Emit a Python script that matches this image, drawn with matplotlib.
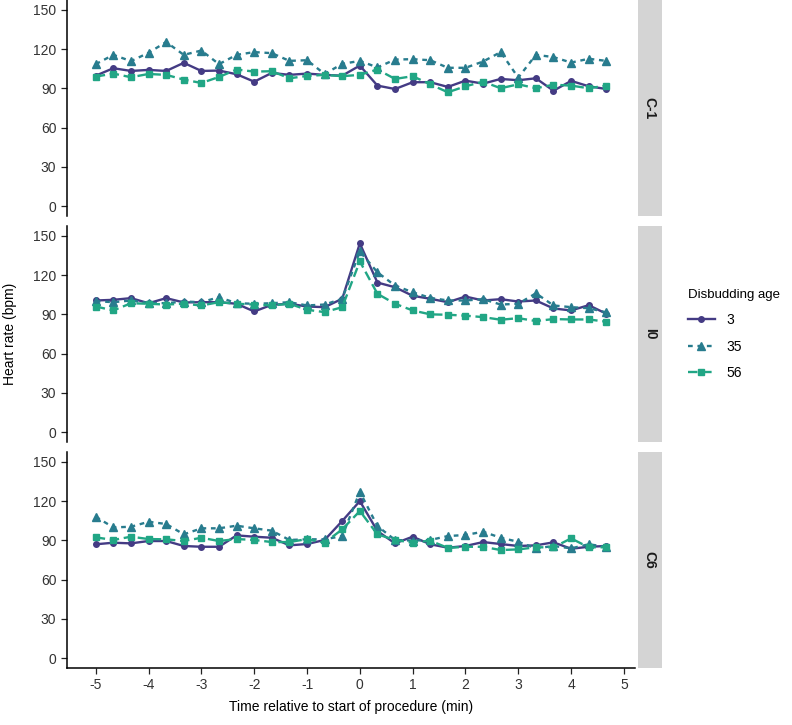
import numpy as np
import matplotlib
matplotlib.use("Agg")
import matplotlib.pyplot as plt
from matplotlib.lines import Line2D

plt.rcParams['font.family'] = ['Liberation Sans', 'DejaVu Sans']
plt.rcParams['axes.unicode_minus'] = False

# time points, 20 s apart
time_min = np.arange(-15, 15) / 3.0

panels = ["C-1", "I0", "C6"]
ages = ["3", "35", "56"]

# C-1
c1_age3 = [99.7, 105.4, 103.3, 104.1, 103.3, 109.5, 103.3, 103.6, 100.8, 95.1,
           101.8, 100.3, 101.3, 100.3, 99.7, 107.4, 92.1, 89.5, 94.7, 94.7,
           91.1, 95.9, 93.6, 97.2, 96.2, 97.7, 88.2, 95.7, 91.6, 89.5]
c1_age35 = [108.5, 115.6, 110.8, 117.2, 125.4, 115.6, 118.9, 108.5, 115.6, 117.7,
            116.9, 111.0, 111.5, 101.0, 108.7, 111.0, 106.0, 112.0, 112.3, 111.5,
            105.7, 105.7, 110.5, 117.7, 98.2, 115.6, 113.9, 109.7, 112.6, 111.0]
c1_age56 = [99.0, 101.3, 98.5, 101.0, 100.3, 96.7, 94.1, 98.7, 104.4, 102.8,
            103.1, 97.7, 99.5, 100.3, 99.3, 100.3, 104.4, 97.2, 99.3, 93.1,
            87.0, 91.6, 95.1, 90.1, 93.1, 90.1, 92.8, 92.1, 90.1, 92.1]

# I0
i0_age3 = [100.6, 101.1, 102.4, 98.5, 102.4, 99.1, 99.3, 99.3, 98.1, 92.2,
           97.3, 98.1, 96.0, 95.5, 101.9, 144.2, 114.3, 110.7, 104.2, 101.9,
           99.3, 103.6, 100.6, 101.6, 99.8, 100.6, 94.5, 93.0, 97.0, 90.5]
i0_age35 = [100.1, 99.3, 100.6, 98.8, 98.5, 99.8, 99.3, 103.1, 98.5, 98.1,
            98.5, 99.3, 96.8, 97.5, 101.9, 138.1, 122.1, 112.0, 106.9, 102.6,
            100.6, 100.6, 101.6, 97.5, 98.1, 106.1, 96.8, 95.5, 94.7, 91.5]
i0_age56 = [96.0, 93.0, 98.5, 98.1, 97.5, 98.1, 96.8, 99.3, 98.1, 97.5,
            96.8, 98.1, 93.5, 91.7, 95.5, 130.5, 105.7, 98.1, 93.0, 90.0,
            89.7, 89.0, 87.9, 85.9, 87.1, 84.9, 86.4, 86.1, 86.1, 84.4]

# C6
c6_age3 = [87.0, 88.2, 87.7, 89.5, 89.5, 85.7, 85.1, 85.1, 93.8, 92.8,
           92.0, 86.2, 87.2, 90.3, 104.8, 120.0, 97.1, 87.7, 92.8, 87.0,
           84.4, 85.7, 88.7, 87.2, 85.7, 86.2, 88.5, 83.6, 85.1, 85.7]
c6_age35 = [108.0, 99.9, 100.4, 104.2, 102.5, 94.6, 99.2, 99.2, 101.2, 99.2,
            97.4, 90.3, 90.8, 90.8, 93.3, 127.1, 100.9, 90.3, 89.8, 90.3,
            93.3, 94.1, 96.6, 92.0, 88.9, 83.9, 85.7, 83.9, 87.0, 85.1]
c6_age56 = [92.3, 90.3, 92.8, 91.0, 90.8, 89.5, 92.0, 89.5, 91.0, 90.3,
            88.7, 88.7, 91.0, 88.2, 98.4, 112.4, 94.6, 90.3, 88.2, 89.8,
            84.2, 85.1, 85.1, 82.6, 83.1, 84.7, 84.7, 91.5, 84.7, 84.7]

panel_data = {
    "C-1": [c1_age3, c1_age35, c1_age56],
    "I0": [i0_age3, i0_age35, i0_age56],
    "C6": [c6_age3, c6_age35, c6_age56],
}

colors = ['#443b84', '#287c8e', '#21a685']
markers = ['o', '^', 's']
msizes = [4, 6, 5]
dashes = [None, (2, 2), (4, 2)]

W, H = 792, 725
fig = plt.figure(figsize=(W / 100, H / 100), dpi=100)

left, right = 66.7, 635
tops = [0, 226, 452]
ph = 216

for p, (name, top) in enumerate(zip(panels, tops)):
    ax = fig.add_axes([left / W, 1 - (top + ph) / H, (right - left) / W, ph / H])
    for i, age in enumerate(ages):
        kw = dict(color=colors[i], marker=markers[i], markersize=msizes[i],
                  linewidth=1.7, label=age)
        if dashes[i] is None:
            ax.plot(time_min, panel_data[name][i], linestyle='-', **kw)
        else:
            ax.plot(time_min, panel_data[name][i], dashes=dashes[i], **kw)
    ax.set_xlim(-5.55, 5.21)
    ax.set_ylim(-7.5, 157.5)
    ax.set_yticks(range(0, 151, 30))
    ax.set_xticks(range(-5, 6))
    for s in ['top', 'right']:
        ax.spines[s].set_visible(False)
    ax.spines['left'].set_linewidth(1.1)
    ax.spines['bottom'].set_linewidth(1.1)
    ax.tick_params(axis='both', labelsize=10, length=4, width=0.9, colors='#222222',
                   labelcolor='#333333')
    ax.tick_params(axis='x', pad=3)
    if p < 2:
        ax.spines['bottom'].set_visible(False)
        ax.tick_params(axis='x', bottom=False, labelbottom=False)
    # facet strip
    sax = fig.add_axes([637.5 / W, 1 - (top + ph) / H, 24.5 / W, ph / H])
    sax.set_facecolor('#d4d4d4')
    sax.set_xticks([])
    sax.set_yticks([])
    for s in sax.spines.values():
        s.set_visible(False)
    sax.text(0.5, 0.5, name, rotation=270, ha='center', va='center',
             fontsize=10, fontweight='bold', color='#1a1a1a', transform=sax.transAxes)

fig.text(10 / W, 1 - 334 / H, "Heart rate (bpm)", rotation=90, ha='center',
         va='center', fontsize=10)
fig.text(351 / W, 1 - 707 / H, "Time relative to start of procedure (min)",
         ha='center', va='center', fontsize=10)

handles = []
for i, age in enumerate(ages):
    h = Line2D([], [], color=colors[i], marker=markers[i], markersize=msizes[i],
               linewidth=1.7, label=age)
    if dashes[i] is not None:
        h.set_dashes(dashes[i])
    handles.append(h)
leg = fig.legend(handles=handles, title="Disbudding age", loc='upper left',
                 bbox_to_anchor=(682 / W, 1 - 283 / H), frameon=False,
                 fontsize=10, title_fontsize=9.5, handlelength=2.0,
                 labelspacing=0.9, numpoints=1, handletextpad=0.8,
                 borderaxespad=0.0)
leg._legend_box.align = "left"

fig.savefig("out.png", dpi=100)
